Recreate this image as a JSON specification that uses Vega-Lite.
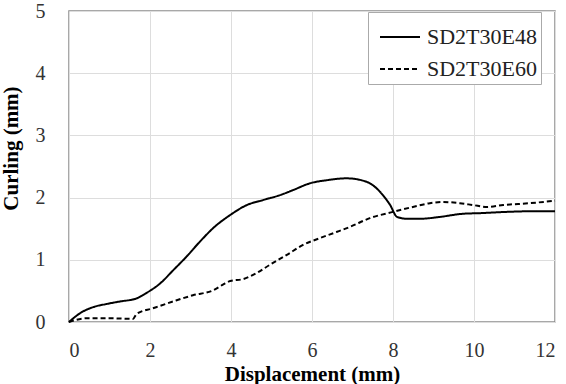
{
  "$schema": "https://vega.github.io/schema/vega-lite/v6.json",
  "width": 486,
  "height": 311,
  "autosize": "none",
  "padding": {"left": 69, "top": 11, "right": 11, "bottom": 62},
  "background": "white",
  "config": {
    "font": "Liberation Serif",
    "view": {"stroke": "#8c8c8c", "strokeWidth": 1.5}
  },
  "data": {
    "values": [
      {"series": "SD2T30E48", "x": 0, "y": 0},
      {"series": "SD2T30E48", "x": 0.27, "y": 0.14},
      {"series": "SD2T30E48", "x": 0.6, "y": 0.24},
      {"series": "SD2T30E48", "x": 0.93, "y": 0.29},
      {"series": "SD2T30E48", "x": 1.26, "y": 0.33},
      {"series": "SD2T30E48", "x": 1.67, "y": 0.38},
      {"series": "SD2T30E48", "x": 1.92, "y": 0.47},
      {"series": "SD2T30E48", "x": 2.25, "y": 0.62},
      {"series": "SD2T30E48", "x": 2.57, "y": 0.83},
      {"series": "SD2T30E48", "x": 2.9, "y": 1.05},
      {"series": "SD2T30E48", "x": 3.23, "y": 1.29},
      {"series": "SD2T30E48", "x": 3.56, "y": 1.51},
      {"series": "SD2T30E48", "x": 3.98, "y": 1.72},
      {"series": "SD2T30E48", "x": 4.39, "y": 1.88},
      {"series": "SD2T30E48", "x": 4.79, "y": 1.96},
      {"series": "SD2T30E48", "x": 5.21, "y": 2.04},
      {"series": "SD2T30E48", "x": 5.53, "y": 2.12},
      {"series": "SD2T30E48", "x": 5.95, "y": 2.23},
      {"series": "SD2T30E48", "x": 6.37, "y": 2.28},
      {"series": "SD2T30E48", "x": 6.85, "y": 2.31},
      {"series": "SD2T30E48", "x": 7.22, "y": 2.28},
      {"series": "SD2T30E48", "x": 7.5, "y": 2.2},
      {"series": "SD2T30E48", "x": 7.75, "y": 2.04},
      {"series": "SD2T30E48", "x": 7.93, "y": 1.88},
      {"series": "SD2T30E48", "x": 8.1, "y": 1.69},
      {"series": "SD2T30E48", "x": 8.35, "y": 1.66},
      {"series": "SD2T30E48", "x": 8.67, "y": 1.66},
      {"series": "SD2T30E48", "x": 9.16, "y": 1.69},
      {"series": "SD2T30E48", "x": 9.73, "y": 1.74},
      {"series": "SD2T30E48", "x": 10.15, "y": 1.75},
      {"series": "SD2T30E48", "x": 10.8, "y": 1.77},
      {"series": "SD2T30E48", "x": 11.38, "y": 1.78},
      {"series": "SD2T30E48", "x": 12, "y": 1.78},
      {"series": "SD2T30E60", "x": 0, "y": 0},
      {"series": "SD2T30E60", "x": 0.44, "y": 0.06},
      {"series": "SD2T30E60", "x": 1.01, "y": 0.06},
      {"series": "SD2T30E60", "x": 1.58, "y": 0.05},
      {"series": "SD2T30E60", "x": 1.67, "y": 0.13},
      {"series": "SD2T30E60", "x": 2.07, "y": 0.22},
      {"series": "SD2T30E60", "x": 2.57, "y": 0.33},
      {"series": "SD2T30E60", "x": 3.06, "y": 0.43},
      {"series": "SD2T30E60", "x": 3.56, "y": 0.51},
      {"series": "SD2T30E60", "x": 3.8, "y": 0.6},
      {"series": "SD2T30E60", "x": 3.98, "y": 0.66},
      {"series": "SD2T30E60", "x": 4.3, "y": 0.69},
      {"series": "SD2T30E60", "x": 4.64, "y": 0.79},
      {"series": "SD2T30E60", "x": 4.96, "y": 0.92},
      {"series": "SD2T30E60", "x": 5.38, "y": 1.08},
      {"series": "SD2T30E60", "x": 5.78, "y": 1.24},
      {"series": "SD2T30E60", "x": 6.2, "y": 1.35},
      {"series": "SD2T30E60", "x": 6.62, "y": 1.45},
      {"series": "SD2T30E60", "x": 6.94, "y": 1.53},
      {"series": "SD2T30E60", "x": 7.43, "y": 1.67},
      {"series": "SD2T30E60", "x": 8.0, "y": 1.77},
      {"series": "SD2T30E60", "x": 8.49, "y": 1.85},
      {"series": "SD2T30E60", "x": 8.91, "y": 1.91},
      {"series": "SD2T30E60", "x": 9.23, "y": 1.93},
      {"series": "SD2T30E60", "x": 9.65, "y": 1.91},
      {"series": "SD2T30E60", "x": 9.98, "y": 1.88},
      {"series": "SD2T30E60", "x": 10.32, "y": 1.85},
      {"series": "SD2T30E60", "x": 10.72, "y": 1.88},
      {"series": "SD2T30E60", "x": 11.38, "y": 1.91},
      {"series": "SD2T30E60", "x": 12, "y": 1.95}
    ]
  },
  "mark": {"type": "line", "color": "black", "strokeWidth": 2, "interpolate": "monotone"},
  "encoding": {
    "x": {
      "field": "x", "type": "quantitative",
      "scale": {"domain": [0, 12], "nice": false},
      "axis": {
        "values": [0, 2, 4, 6, 8, 10, 12],
        "title": "Displacement (mm)",
        "titleFont": "Liberation Serif",
        "titleFontSize": 21, "titleFontWeight": "bold", "titleColor": "black",
        "titlePadding": 3,
        "labelFont": "Liberation Serif",
        "labelFontSize": 20, "labelColor": "#333333",
        "labelPadding": 18, "tickSize": 0, "domain": false,
        "gridColor": "#dddddd", "gridWidth": 1
      }
    },
    "y": {
      "field": "y", "type": "quantitative",
      "scale": {"domain": [0, 5], "nice": false},
      "axis": {
        "values": [0, 1, 2, 3, 4, 5],
        "title": "Curling (mm)",
        "titleFont": "Liberation Serif",
        "titleFontSize": 21, "titleFontWeight": "bold", "titleColor": "black",
        "titleX": -58, "titleY": 137, "titleBaseline": "middle", "titleAlign": "center",
        "labelFont": "Liberation Serif",
        "labelFontSize": 20, "labelColor": "#333333",
        "labelPadding": 24, "tickSize": 0, "domain": false,
        "gridColor": "#dddddd", "gridWidth": 1
      }
    },
    "strokeDash": {
      "field": "series", "type": "nominal",
      "scale": {"domain": ["SD2T30E48", "SD2T30E60"], "range": [[1, 0], [5, 3]]},
      "legend": {
        "title": null,
        "orient": "none", "legendX": 299, "legendY": 1,
        "symbolType": "stroke", "symbolSize": 1600, "symbolStrokeWidth": 2,
        "symbolStrokeColor": "black",
        "symbolOffset": 7,
        "labelFont": "Liberation Serif",
        "labelFontSize": 22, "labelColor": "#222222",
        "labelOffset": 6,
        "rowPadding": 0,
        "padding": 4,
        "strokeColor": "#aaaaaa", "fillColor": "white"
      }
    }
  }
}
